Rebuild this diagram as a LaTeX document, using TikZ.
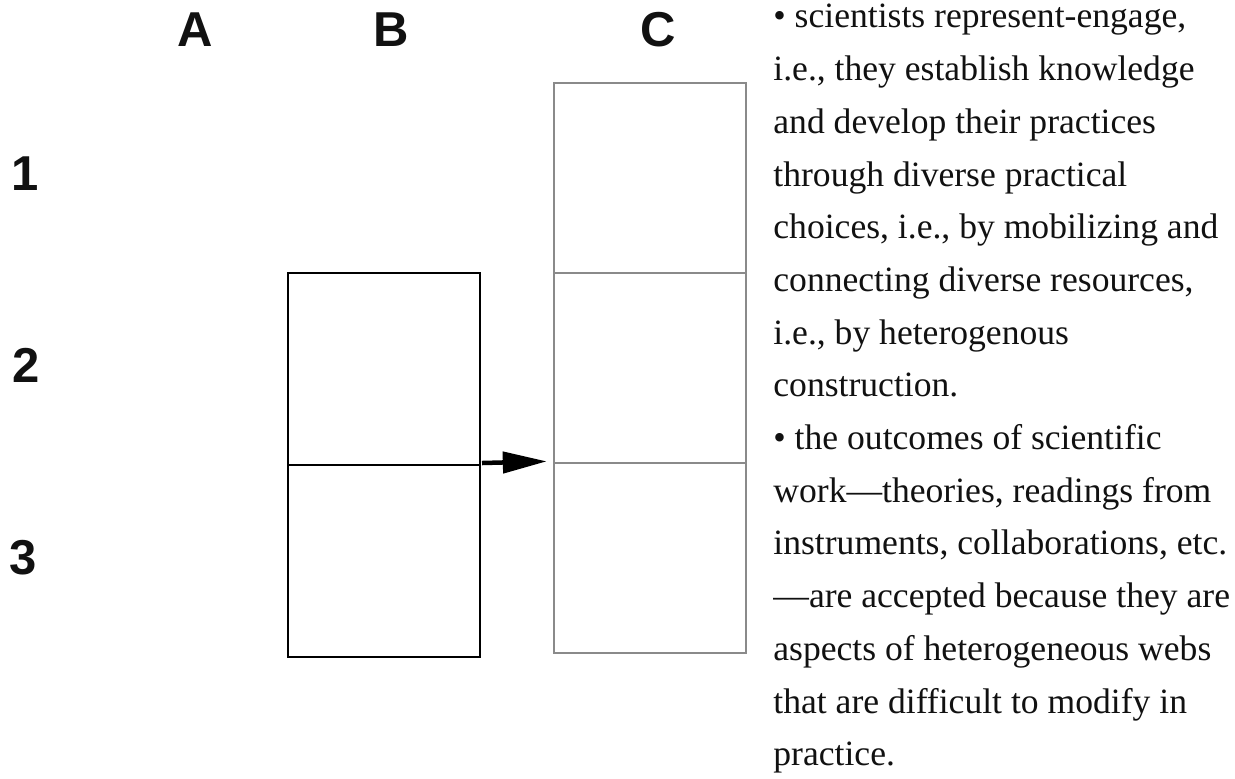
\documentclass[tikz,border=0pt]{standalone}
\usepackage{fontspec}
\setmainfont{Liberation Serif}
\newfontfamily\headfont{Liberation Sans}
\usetikzlibrary{arrows.meta, positioning}
\definecolor{frameB}{HTML}{000000}
\definecolor{frameC}{HTML}{8A8A8A}
\definecolor{ink}{HTML}{111111}

\begin{document}
\begin{tikzpicture}[
  x=0.5pt, y=-0.5pt,
  every node/.style={color=ink},
  cellB/.style={
    rectangle, draw=frameB, line width=1pt,
    minimum width=96pt, minimum height=96pt, inner sep=0pt
  },
  cellC/.style={cellB, draw=frameC, line width=1.2pt, minimum height=95pt},
  headlabel/.style={font=\headfont\bfseries\fontsize{24.5}{24.5}\selectfont,
    inner sep=0pt},
  note/.style={align=left, anchor=north west, inner sep=0pt,
    font=\fontsize{17.8}{26.35}\selectfont}
]
\useasboundingbox (0,0) rectangle (1235,778);

% column heads
\node[headlabel] (hA) at (195,30) {A};
\node[headlabel] (hB) at (391,30) {B};
\node[headlabel] (hC) at (658,30) {C};

% row heads
\node[headlabel] (r1) at (25,174) {1};
\node[headlabel] (r2) at (26,365) {2};
\node[headlabel] (r3) at (23,558) {3};

% column B
\node[cellB] (b2) at (384,369) {};
\node[cellB] (b3) at (384,561) {};

% column C
\node[cellC] (c1) at (650,178) {};
\node[cellC] (c2) at (650,368) {};
\node[cellC] (c3) at (650,558) {};

% arrow
\draw[line width=2.25pt, -{Triangle[length=22pt, width=10.5pt]}, shorten >=3pt]
  ([xshift=0.5pt, yshift=1.5pt]b2.south east) -- ([yshift=1.5pt]c2.south west);

% notes
\node[note] (txt) at (773,4) {%
  • scientists represent-engage,\\
  i.e., they establish knowledge\\
  and develop their practices\\
  through diverse practical\\
  choices, i.e., by mobilizing and\\
  connecting diverse resources,\\
  i.e., by heterogenous\\
  construction.\\
  • the outcomes of scientific\\
  work—theories, readings from\\
  instruments, collaborations, etc.\\
  —are accepted because they are\\
  aspects of heterogeneous webs\\
  that are difficult to modify in\\
  practice.};
\end{tikzpicture}
\end{document}
